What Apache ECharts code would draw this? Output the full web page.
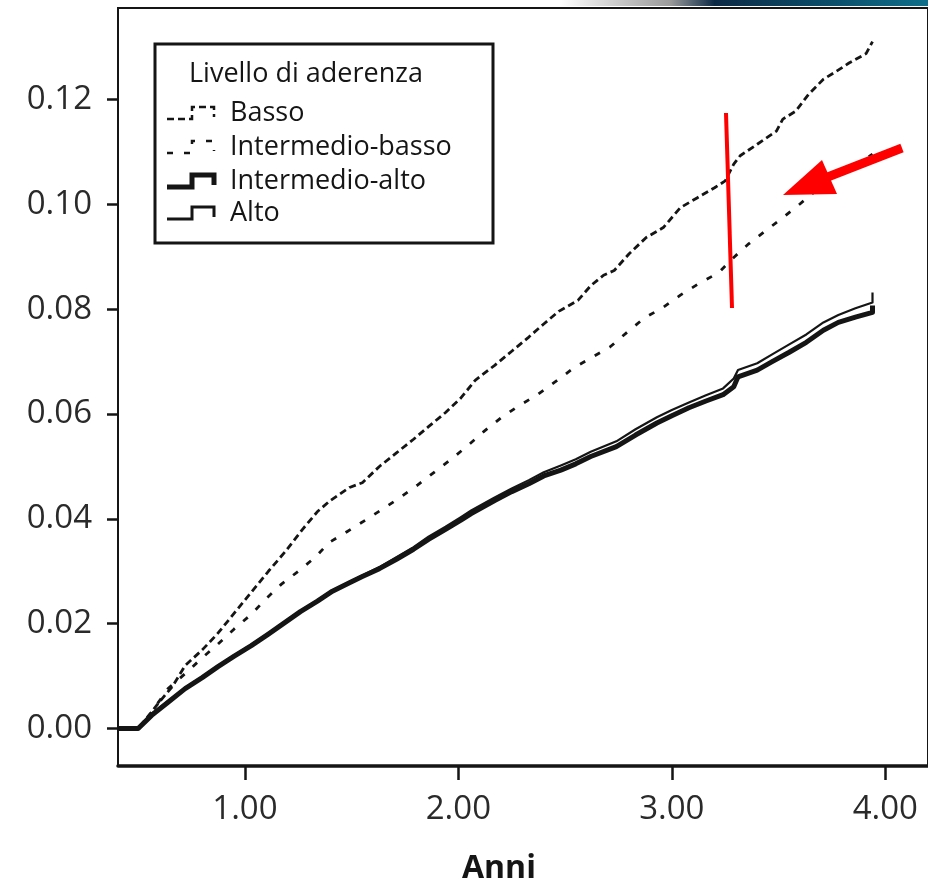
<!DOCTYPE html>
<html>
<head>
<meta charset="utf-8">
<script src="https://cdn.jsdelivr.net/npm/echarts@6/dist/echarts.min.js"></script>
<style>
  html, body { margin: 0; padding: 0; background: #fff; }
  #chart { width: 928px; height: 885px; }
</style>
</head>
<body>
<div id="chart"></div>
<script>
// ---- Data ----
const legendTitle = 'Livello di aderenza';
const seriesNames = ['Basso', 'Intermedio-basso', 'Intermedio-alto', 'Alto'];
const xTicks = [1, 2, 3, 4];
const yTicks = [0, 0.02, 0.04, 0.06, 0.08, 0.10, 0.12];
const xAxisName = 'Anni';

const basso = [
  [0.41,0],[0.50,0],[0.56,0.003],[0.60,0.0051],[0.66,0.008],[0.72,0.012],[0.80,0.015],
  [0.87,0.018],[0.95,0.022],[1.03,0.026],[1.11,0.030],[1.19,0.0338],[1.27,0.038],
  [1.34,0.0414],[1.40,0.0435],[1.49,0.046],[1.55,0.0469],[1.63,0.050],[1.71,0.0526],
  [1.79,0.0552],[1.86,0.0576],[1.94,0.0603],[2.01,0.063],[2.08,0.0665],[2.17,0.0693],
  [2.25,0.072],[2.33,0.0747],[2.40,0.0772],[2.47,0.0796],[2.56,0.0817],[2.62,0.0845],
  [2.68,0.0865],[2.73,0.0874],[2.80,0.0906],[2.88,0.0937],[2.96,0.0956],[3.04,0.0994],
  [3.12,0.1013],[3.20,0.1032],[3.25,0.1045],[3.29,0.1077],[3.32,0.1093],[3.40,0.1115],
  [3.49,0.114],[3.52,0.1163],[3.58,0.1178],[3.64,0.121],[3.71,0.1239],[3.77,0.1254],
  [3.83,0.127],[3.91,0.1288],[3.94,0.1311]
];
const intermedioBasso = [
  [0.41,0],[0.50,0],[0.56,0.003],[0.64,0.0076],[0.735,0.011],[0.80,0.0135],[0.874,0.0161],
  [0.95,0.019],[1.03,0.0218],[1.10,0.0248],[1.17,0.0275],[1.25,0.030],[1.33,0.0327],
  [1.395,0.0355],[1.48,0.0376],[1.57,0.0399],[1.65,0.042],[1.735,0.0443],[1.81,0.0465],
  [1.89,0.049],[1.97,0.0515],[2.05,0.0542],[2.12,0.0567],[2.20,0.0593],[2.28,0.0615],
  [2.37,0.0637],[2.465,0.0665],[2.54,0.0688],[2.62,0.0707],[2.71,0.0728],[2.79,0.0756],
  [2.87,0.0783],[2.96,0.0804],[3.04,0.0827],[3.13,0.085],[3.22,0.087],[3.29,0.0899],
  [3.36,0.0925],[3.44,0.095],[3.52,0.0975],[3.60,0.1001],[3.67,0.1025],[3.75,0.1049],
  [3.85,0.1072],[3.94,0.1096]
];
const intermedioAlto = [
  [0.41,0],[0.50,0],[0.563,0.0025],[0.64,0.005],[0.72,0.0076],[0.80,0.0097],[0.874,0.0118],
  [0.95,0.0138],[1.03,0.0158],[1.11,0.018],[1.19,0.0203],[1.26,0.0223],[1.34,0.0243],
  [1.41,0.0262],[1.49,0.0278],[1.55,0.029],[1.63,0.0305],[1.71,0.0323],[1.79,0.0342],
  [1.86,0.0361],[1.94,0.038],[2.01,0.0397],[2.06,0.041],[2.17,0.0435],[2.25,0.0452],
  [2.33,0.0467],[2.40,0.0482],[2.48,0.0493],[2.55,0.0505],[2.62,0.0519],[2.74,0.0538],
  [2.83,0.056],[2.93,0.0583],[3.00,0.0597],[3.08,0.0612],[3.16,0.0625],[3.24,0.0637],
  [3.29,0.0652],[3.31,0.0671],[3.40,0.0684],[3.47,0.070],[3.55,0.0718],[3.63,0.0737],
  [3.71,0.076],[3.78,0.0775],[3.86,0.0785],[3.94,0.0794],[3.94,0.0807]
];
const alto = [
  [0.41,0],[0.50,0],[0.56,0.0028],[0.64,0.0052],[0.72,0.0078],[0.80,0.0099],[0.874,0.012],
  [0.95,0.014],[1.03,0.016],[1.11,0.0182],[1.19,0.0205],[1.26,0.0225],[1.34,0.0245],
  [1.41,0.0264],[1.49,0.028],[1.55,0.0292],[1.63,0.0308],[1.71,0.0327],[1.79,0.0346],
  [1.86,0.0366],[1.94,0.0385],[2.01,0.0403],[2.06,0.0416],[2.17,0.0441],[2.25,0.0458],
  [2.33,0.0474],[2.40,0.0489],[2.48,0.0502],[2.55,0.0514],[2.62,0.0528],[2.74,0.0548],
  [2.83,0.0571],[2.93,0.0594],[3.00,0.0608],[3.08,0.0622],[3.16,0.0636],[3.24,0.0649],
  [3.29,0.0668],[3.31,0.0684],[3.40,0.0697],[3.47,0.0714],[3.55,0.0733],[3.63,0.0752],
  [3.71,0.0775],[3.78,0.0789],[3.86,0.0802],[3.94,0.0813],[3.94,0.0832]
];

// ---- Chart ----
const ink = '#151515';
const font = '"Open Sans", "Noto Sans", sans-serif';
const chart = echarts.init(document.getElementById('chart'), null, { renderer: 'canvas' });

function lineSeries(name, data, width, dash, z) {
  return {
    name: name, type: 'line', data: data,
    showSymbol: false, symbol: 'none', silent: true, z: z,
    lineStyle: { color: ink, width: width, type: dash || 'solid', cap: 'butt', join: 'round' }
  };
}

// legend built as graphic elements (step-shaped icons)
const lgX = 155, lgY = 44, lgW = 338, lgH = 199;
const rowY = [113, 147, 181, 213];
function icon(y, style) {
  return {
    type: 'polyline',
    shape: { points: [[167, y + 6], [192, y + 6], [192, y - 6], [214, y - 6], [214, y + 4]] },
    style: Object.assign({ stroke: ink, fill: null }, style)
  };
}
const legendGraphics = [
  { type: 'rect', shape: { x: lgX, y: lgY, width: lgW, height: lgH },
    style: { fill: '#fff', stroke: ink, lineWidth: 3 }, z: 10 },
  { type: 'text', x: 189, y: 74, z: 11,
    style: { text: legendTitle, font: '400 27px ' + font, fill: ink, textVerticalAlign: 'middle' } },
  Object.assign(icon(rowY[0], { lineWidth: 2.5, lineDash: [7, 4] }), { z: 11 }),
  Object.assign(icon(rowY[1], { lineWidth: 2.5, lineDash: [6, 11] }), { z: 11 }),
  Object.assign(icon(rowY[2], { lineWidth: 5 }), { z: 11 }),
  Object.assign(icon(rowY[3], { lineWidth: 3 }), { z: 11 })
].concat(seriesNames.map((n, i) => ({
  type: 'text', x: 230, y: rowY[i], z: 11,
  style: { text: n, font: '400 27px ' + font, fill: ink, textVerticalAlign: 'middle' }
})));

const option = {
  backgroundColor: '#fff',
  animation: false,
  grid: { left: 118, right: -5, top: 8, bottom: 119, show: true, borderColor: ink, borderWidth: 2, backgroundColor: 'transparent' },
  xAxis: {
    type: 'value', min: 0.4055, max: 4.2,
    axisLine: { show: true, onZero: false, lineStyle: { color: ink, width: 3.5 } },
    axisTick: { show: true, customValues: xTicks, length: 14, lineStyle: { color: ink, width: 2.5 } },
    axisLabel: { customValues: xTicks, formatter: v => v.toFixed(2), fontSize: 33, fontFamily: font, color: '#2a2a2a', margin: 27 },
    splitLine: { show: false }
  },
  yAxis: {
    type: 'value', min: -0.00716, max: 0.1375,
    axisLine: { show: true, onZero: false, lineStyle: { color: ink, width: 2 } },
    axisTick: { show: true, customValues: yTicks, length: 11, lineStyle: { color: ink, width: 2.5 } },
    axisLabel: { customValues: yTicks, formatter: v => v.toFixed(2), fontSize: 33, fontFamily: font, color: '#2a2a2a', margin: 26 },
    splitLine: { show: false }
  },
  series: [
    lineSeries(seriesNames[0], basso, 2.8, [7, 4], 3),
    lineSeries(seriesNames[1], intermedioBasso, 2.8, [6, 11], 3),
    lineSeries(seriesNames[2], intermedioAlto, 5, null, 4),
    lineSeries(seriesNames[3], alto, 2.2, null, 5)
  ],
  graphic: [
    // banner strip at top right
    { type: 'rect', shape: { x: 560, y: 0, width: 368, height: 6 }, z: 1,
      style: { fill: new echarts.graphic.LinearGradient(0, 0, 1, 0, [
        { offset: 0, color: '#ffffff' }, { offset: 0.3, color: '#9a9a9a' },
        { offset: 0.42, color: '#0d2a45' }, { offset: 0.7, color: '#0b4a66' }, { offset: 1, color: '#0f6f8a' }]) } },
    { type: 'text', left: 462, top: 853, z: 10,
      style: { text: xAxisName, font: 'bold 32px ' + font, fill: ink } },
    // red annotation
    { type: 'line', shape: { x1: 726, y1: 113, x2: 732, y2: 308 }, z: 20,
      style: { stroke: '#ff0000', lineWidth: 4 } },
    { type: 'line', shape: { x1: 902, y1: 148, x2: 820, y2: 180 }, z: 20,
      style: { stroke: '#ff0000', lineWidth: 9 } },
    { type: 'polygon', shape: { points: [[783, 195], [822, 160], [837, 194]] }, z: 20,
      style: { fill: '#ff0000' } }
  ].concat(legendGraphics)
};
chart.setOption(option);
</script>
</body>
</html>
